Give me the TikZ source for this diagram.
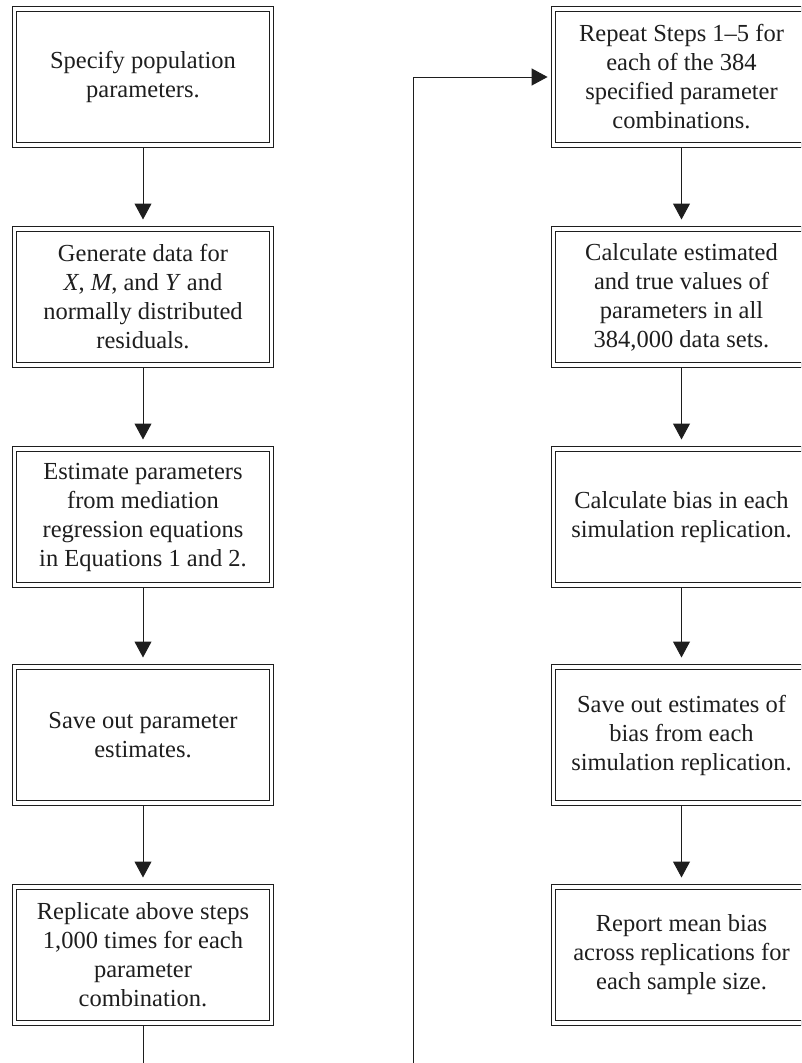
\documentclass[tikz,border=0pt]{standalone}
\usepackage{fontspec}
\setmainfont{Liberation Serif}
\usetikzlibrary{arrows.meta}
\definecolor{ink}{HTML}{1E1E1E}
\tikzset{
  stepbox/.style={draw=ink, line width=1pt, double=white, double distance=3.2pt,
    rectangle, minimum width=256.8pt, minimum height=136pt, inner sep=0pt,
    align=center, text=ink, font=\fontsize{24.5}{29}\selectfont},
  arr/.style={draw=ink, line width=1pt, -{Triangle[width=17pt,length=16pt]}},
  flow/.style={arr, shorten <=2.1pt, shorten >=9pt},
}
\begin{document}
\begin{tikzpicture}[x=1pt,y=-1pt]
\useasboundingbox (0,0) rectangle (801,1063);
\clip (0,0) rectangle (801,1063);
\node[stepbox] (L1) at (143,77) {Specify population\\parameters.};
\node[stepbox] (L2) at (143,297) {Generate data for\\\textit{X}, \textit{M}, and \textit{Y} and\\normally distributed\\residuals.};
\node[stepbox] (L3) at (143,517) {Estimate parameters\\from mediation\\regression equations\\in Equations 1 and 2.};
\node[stepbox] (L4) at (143,735) {Save out parameter\\estimates.};
\node[stepbox] (L5) at (143,955) {Replicate above steps\\1,000 times for each\\parameter\\combination.};
\node[stepbox] (R1) at (681.5,77) {Repeat Steps 1–5 for\\each of the 384\\specified parameter\\combinations.};
\node[stepbox] (R2) at (681.5,297) {Calculate estimated\\and true values of\\parameters in all\\384,000 data sets.};
\node[stepbox] (R3) at (681.5,517) {Calculate bias in each\\simulation replication.};
\node[stepbox] (R4) at (681.5,735) {Save out estimates of\\bias from each\\simulation replication.};
\node[stepbox] (R5) at (681.5,955) {Report mean bias\\across replications for\\each sample size.};
\draw[flow] (L1) -- (L2);
\draw[flow] (L2) -- (L3);
\draw[flow] (L3) -- (L4);
\draw[flow] (L4) -- (L5);
\draw[flow] (R1) -- (R2);
\draw[flow] (R2) -- (R3);
\draw[flow] (R3) -- (R4);
\draw[flow] (R4) -- (R5);
\coordinate (bl) at (143,1090);
\coordinate (br) at (413,1090);
\coordinate (tr) at (413,77);
\draw[arr, shorten <=2.1pt, shorten >=5pt] (L5.south) -- (bl) -- (br) -- (tr) -- (R1.west);
\end{tikzpicture}
\end{document}
